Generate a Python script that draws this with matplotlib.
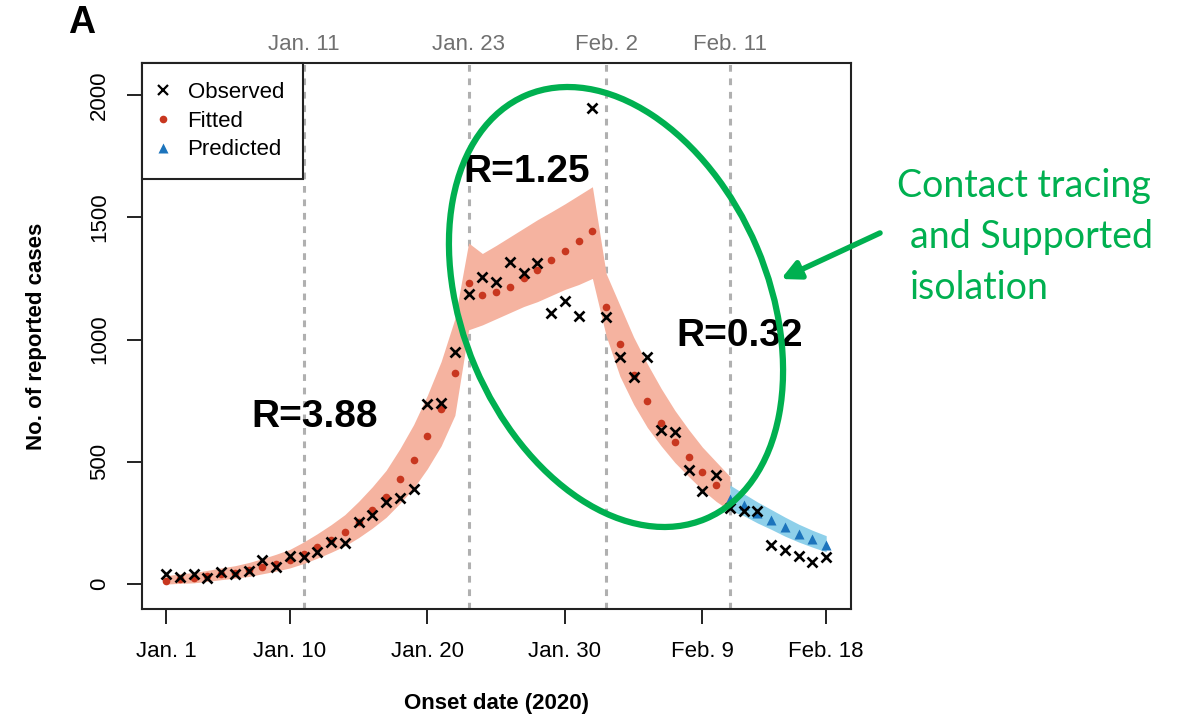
import numpy as np
import matplotlib
matplotlib.use("Agg")
import matplotlib.pyplot as plt
from matplotlib.lines import Line2D
from matplotlib.patches import Ellipse

plt.rcParams["font.family"] = ["Liberation Sans", "DejaVu Sans"]

# ---- data (day 0 = Jan. 1, 2020) ----
observed = [42, 27, 40, 23, 48, 41, 53, 98, 71, 115,
            112, 132, 173, 170, 255, 282, 337, 354, 387, 736,
            742, 950, 1185, 1254, 1237, 1318, 1273, 1314, 1110, 1159,
            1096, 1946, 1091, 927, 845, 927, 630, 623, 466, 382,
            446, 312, 300, 298, 160, 139, 115, 91, 112]
days_obs = np.arange(len(observed))

fitted = [14, 22, 25, 32, 40, 47, 57, 70, 84, 100,
          123, 150, 180, 212, 255, 303, 357, 428, 507, 605,
          718, 862, 1230, 1182, 1196, 1216, 1250, 1284, 1325, 1363,
          1404, 1445, 1134, 982, 855, 750, 660, 582, 518, 457,
          405]
days_fit = np.arange(len(fitted))

fit_lower = [0, 3, 5, 11, 18, 24, 31, 42, 53, 66,
             84, 106, 130, 156, 190, 229, 273, 330, 392, 472,
             565, 690, 1040, 1060, 1085, 1110, 1135, 1155, 1180, 1205,
             1225, 1250, 1015, 850, 735, 640, 565, 497, 440, 385,
             338, 300]
fit_upper = [34, 42, 47, 56, 66, 75, 88, 104, 122, 142,
             172, 206, 243, 284, 338, 398, 465, 553, 652, 772,
             910, 1085, 1395, 1352, 1385, 1420, 1455, 1490, 1522, 1555,
             1590, 1625, 1270, 1140, 1010, 900, 800, 710, 632, 560,
             500, 440]
days_band = np.arange(len(fit_lower))

predicted = [350, 322, 290, 262, 232, 205, 183, 158]
pred_lower = [300, 280, 250, 224, 196, 172, 151, 132]
pred_upper = [405, 370, 336, 305, 274, 245, 220, 198]
days_pred = np.arange(41, 41 + len(predicted))

tick_days = [0, 9, 19, 29, 39, 48]
tick_labels = ["Jan. 1", "Jan. 10", "Jan. 20", "Jan. 30", "Feb. 9", "Feb. 18"]
event_days = [10, 22, 32, 41]
event_labels = ["Jan. 11", "Jan. 23", "Feb. 2", "Feb. 11"]

r_labels = ["R=3.88", "R=1.25", "R=0.32"]
r_pos = [(10.8, 683), (26.2, 1685), (41.7, 1015)]

RED_BAND = "#F5B3A0"
RED_DOT = "#C8371F"
BLUE_BAND = "#8ED0EA"
BLUE_TRI = "#1C74BC"
GREEN = "#00B050"

fig = plt.figure(figsize=(11.86, 7.16), dpi=100)
ax = fig.add_axes([0.1197, 0.1494, 0.5978, 0.7626])

for d in event_days:
    ax.axvline(d, color="#B0B0B0", lw=2.2, ls=(0, (2.2, 2.2)), zorder=1)

ax.fill_between(days_band, fit_lower, fit_upper, color=RED_BAND, lw=0, zorder=2)
ax.fill_between(days_pred, pred_lower, pred_upper, color=BLUE_BAND, lw=0, zorder=2)
ax.plot(days_fit, fitted, "o", color=RED_DOT, ms=5.5, mec="none", zorder=3)
ax.plot(days_pred, predicted, "^", color=BLUE_TRI, ms=7.5, mec="none", zorder=3)
ax.plot(days_obs, observed, "x", color="black", ms=7, mew=1.9, zorder=4)

for lab, (xx, yy) in zip(r_labels, r_pos):
    ax.text(xx, yy, lab, fontsize=28, fontweight="bold", ha="center", va="center", zorder=5)

ax.set_xlim(-1.75, 49.8)
ax.set_ylim(-102, 2131)
ax.set_xticks(tick_days)
ax.set_xticklabels(tick_labels)
ax.set_yticks([0, 500, 1000, 1500, 2000])
ax.tick_params(axis="both", labelsize=16, length=11, width=1.4, pad=12, color="#222222")
plt.setp(ax.get_yticklabels(), rotation=90, va="center")
for s in ax.spines.values():
    s.set_linewidth(1.5)
    s.set_color("#222222")
ax.set_xlabel("Onset date (2020)", fontsize=16, fontweight="bold", labelpad=22)
ax.set_ylabel("No. of reported cases", fontsize=16, fontweight="bold", labelpad=30)

sec = ax.secondary_xaxis("top")
sec.set_xticks(event_days)
sec.set_xticklabels(event_labels)
sec.tick_params(length=0, labelsize=16, labelcolor="#707070", pad=6)
sec.spines["top"].set_visible(False)

handles = [Line2D([], [], ls="none", marker="x", color="black", ms=7, mew=1.6),
           Line2D([], [], ls="none", marker="o", color=RED_DOT, ms=5.5, mec="none"),
           Line2D([], [], ls="none", marker="^", color=BLUE_TRI, ms=7, mec="none")]
leg = ax.legend(handles, ["Observed", "Fitted", "Predicted"], loc="upper left",
                bbox_to_anchor=(0, 1), borderaxespad=0, fontsize=16, fancybox=False,
                edgecolor="#222222", framealpha=1, handlelength=0.2, handletextpad=1.0,
                borderpad=0.85, labelspacing=0.35)
leg.get_frame().set_linewidth(1.5)
leg.set_zorder(6)

fig.text(82 / 1186, 1 - 23 / 716, "A", fontsize=27, fontweight="bold", ha="center", va="center")

# ---- overlay annotations in pixel coords ----
ov = fig.add_axes([0, 0, 1, 1])
ov.set_xlim(0, 1186)
ov.set_ylim(716, 0)
ov.axis("off")
ov.patch.set_alpha(0)
ov.add_patch(Ellipse((616, 307), 306, 460, angle=-23.0, fill=False, ec=GREEN, lw=4.5))
ov.annotate("", xy=(781, 279), xytext=(880, 233),
            arrowprops=dict(arrowstyle="-|>", color=GREEN, lw=4, mutation_scale=28,
                            shrinkA=0, shrinkB=0))
green_lines = ["Contact tracing", "and Supported", "isolation"]
green_xy = [(897, 186), (910, 237), (910, 288)]
for txt, (gx, gy) in zip(green_lines, green_xy):
    ov.text(gx, gy, txt, fontsize=27, color=GREEN, ha="left", va="center",
            family=["Lato", "DejaVu Sans"])

fig.savefig("out.png", dpi=100)
